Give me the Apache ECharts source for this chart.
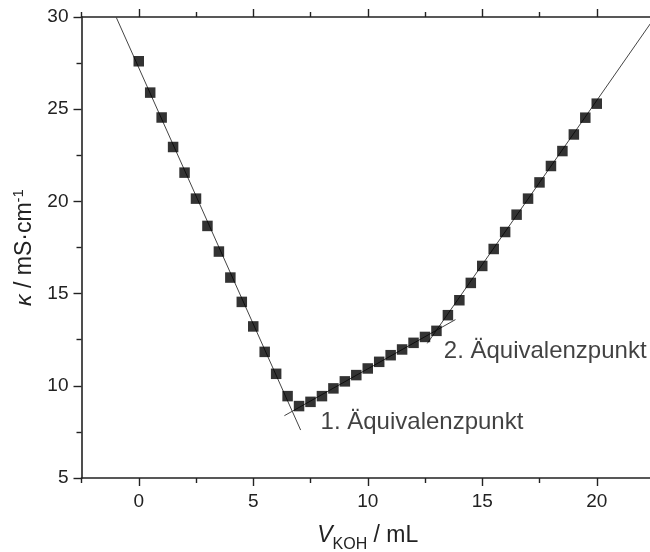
<!DOCTYPE html>
<html>
<head>
<meta charset="utf-8">
<script src="https://cdn.jsdelivr.net/npm/echarts@6/dist/echarts.min.js"></script>
<style>
html,body{margin:0;padding:0;background:#fff;overflow:hidden;}
#chart{width:650px;height:552px;}
</style>
</head>
<body>
<div id="chart"></div>
<script>
// Volume of KOH added (mL)
const volumes = [0,0.5,1,1.5,2,2.5,3,3.5,4,4.5,5,5.5,6,6.5,7,7.5,8,8.5,9,9.5,10,10.5,11,11.5,12,12.5,13,13.5,14,14.5,15,15.5,16,16.5,17,17.5,18,18.5,19,19.5,20];
// Conductivity (mS/cm)
const conductivity = [27.6,25.9,24.55,22.95,21.56,20.15,18.67,17.28,15.87,14.55,13.22,11.84,10.65,9.44,8.9,9.13,9.44,9.86,10.24,10.58,10.94,11.3,11.66,11.97,12.33,12.65,12.98,13.83,14.64,15.58,16.5,17.42,18.34,19.28,20.15,21.03,21.92,22.73,23.63,24.54,25.3];
// Fit lines (endpoints)
const fit1 = [[-0.99,30.0],[7.07,7.6]];
const fit2 = [[6.36,8.38],[13.83,13.59]];
const fit3 = [[12.6,12.3],[22.6,30.1]];
// Annotations
const annotations = [
  {text:'1. Äquivalenzpunkt', x:7.94, y:7.99},
  {text:'2. Äquivalenzpunkt', x:13.32, y:11.84}
];
const xMajorTicks = [0,5,10,15,20];
const xMinorTicks = [-2.5,2.5,7.5,12.5,17.5,22.5];
const xRange = {min:-2.5, max:22.5};
const yTicks = {min:5, max:30, interval:5};

const FONT = 'Liberation Sans, Arial, sans-serif';
const AX = '#222';

const chart = echarts.init(document.getElementById('chart'));
const pts = volumes.map((v,i)=>[v, conductivity[i]]);

function xAxisDef(pos, major, showLine, showLabel){
  return {
    type:'value', min:xRange.min, max:xRange.max, position:pos,
    axisLine:{show:showLine, onZero:false, lineStyle:{color:AX, width:1.6}},
    axisTick:{show:true, length:major?8:5, lineStyle:{color:AX, width:1.4},
      customValues: major ? xMajorTicks : xMinorTicks},
    axisLabel:{show:showLabel, color:AX, fontSize:19, fontFamily:FONT, margin:14,
      customValues: xMajorTicks},
    splitLine:{show:false}
  };
}

const xMain = xAxisDef('bottom', true, true, true);
xMain.name = '{v|V}{sub|KOH}{t| / mL}';
xMain.nameLocation = 'middle';
xMain.nameGap = 42;
xMain.nameTextStyle = {
  fontFamily:FONT, color:AX, fontSize:23,
  rich:{
    v:{fontStyle:'italic', fontSize:23, fontFamily:FONT, color:AX, lineHeight:27, verticalAlign:'bottom'},
    sub:{fontSize:16, fontFamily:FONT, color:AX, lineHeight:27, verticalAlign:'bottom', padding:[0,0,-6,0]},
    t:{fontSize:23, fontFamily:FONT, color:AX, lineHeight:27, verticalAlign:'bottom'}
  }
};

chart.setOption({
  animation:false,
  backgroundColor:'#fff',
  grid:{left:81.5, right:-4, top:17, bottom:74, containLabel:false, outerBoundsMode:'none'},
  xAxis:[
    xMain,
    xAxisDef('top', true, true, false),
    xAxisDef('bottom', false, false, false),
    xAxisDef('top', false, false, false)
  ],
  yAxis:[
    {
      type:'value', min:yTicks.min, max:yTicks.max, interval:yTicks.interval,
      position:'left',
      axisLine:{show:true, onZero:false, lineStyle:{color:AX, width:1.6}},
      axisTick:{show:true, length:8, lineStyle:{color:AX, width:1.4}},
      minorTick:{show:true, splitNumber:2, length:5, lineStyle:{color:AX, width:1.4}},
      splitLine:{show:false},
      axisLabel:{color:AX, fontSize:19, fontFamily:FONT, margin:13},
      name:'{k|κ}{t| / mS·cm}{sup|-1}',
      nameLocation:'middle', nameRotate:90, nameGap:32,
      nameTextStyle:{
        fontFamily:FONT, color:AX, fontSize:23,
        rich:{
          k:{fontStyle:'italic', fontSize:23, fontFamily:FONT, color:AX, lineHeight:29, verticalAlign:'bottom'},
          t:{fontSize:23, fontFamily:FONT, color:AX, lineHeight:29, verticalAlign:'bottom'},
          sup:{fontSize:15, fontFamily:FONT, color:AX, lineHeight:29, verticalAlign:'bottom', padding:[0,0,10,0]}
        }
      }
    }
  ],
  series:[
    {type:'line', data:fit1, xAxisIndex:0, symbol:'none', clip:true, silent:true,
      lineStyle:{color:'#444', width:1}, z:2},
    {type:'line', data:fit2, xAxisIndex:0, symbol:'none', clip:true, silent:true,
      lineStyle:{color:'#444', width:1}, z:2},
    {type:'line', data:fit3, xAxisIndex:0, symbol:'none', clip:true, silent:true,
      lineStyle:{color:'#444', width:1}, z:2},
    {type:'scatter', data:pts, xAxisIndex:0, symbol:'rect', symbolSize:10.5,
      itemStyle:{color:'#000'}, z:5},
    {type:'scatter', xAxisIndex:0, symbolSize:0, silent:true,
      data:annotations.map(a=>({value:[a.x,a.y], name:a.text})),
      label:{show:true, position:'right', distance:0, formatter:p=>p.name,
        fontSize:24, fontFamily:FONT, color:'#111'}, z:6}
  ]
});
</script>
</body>
</html>
